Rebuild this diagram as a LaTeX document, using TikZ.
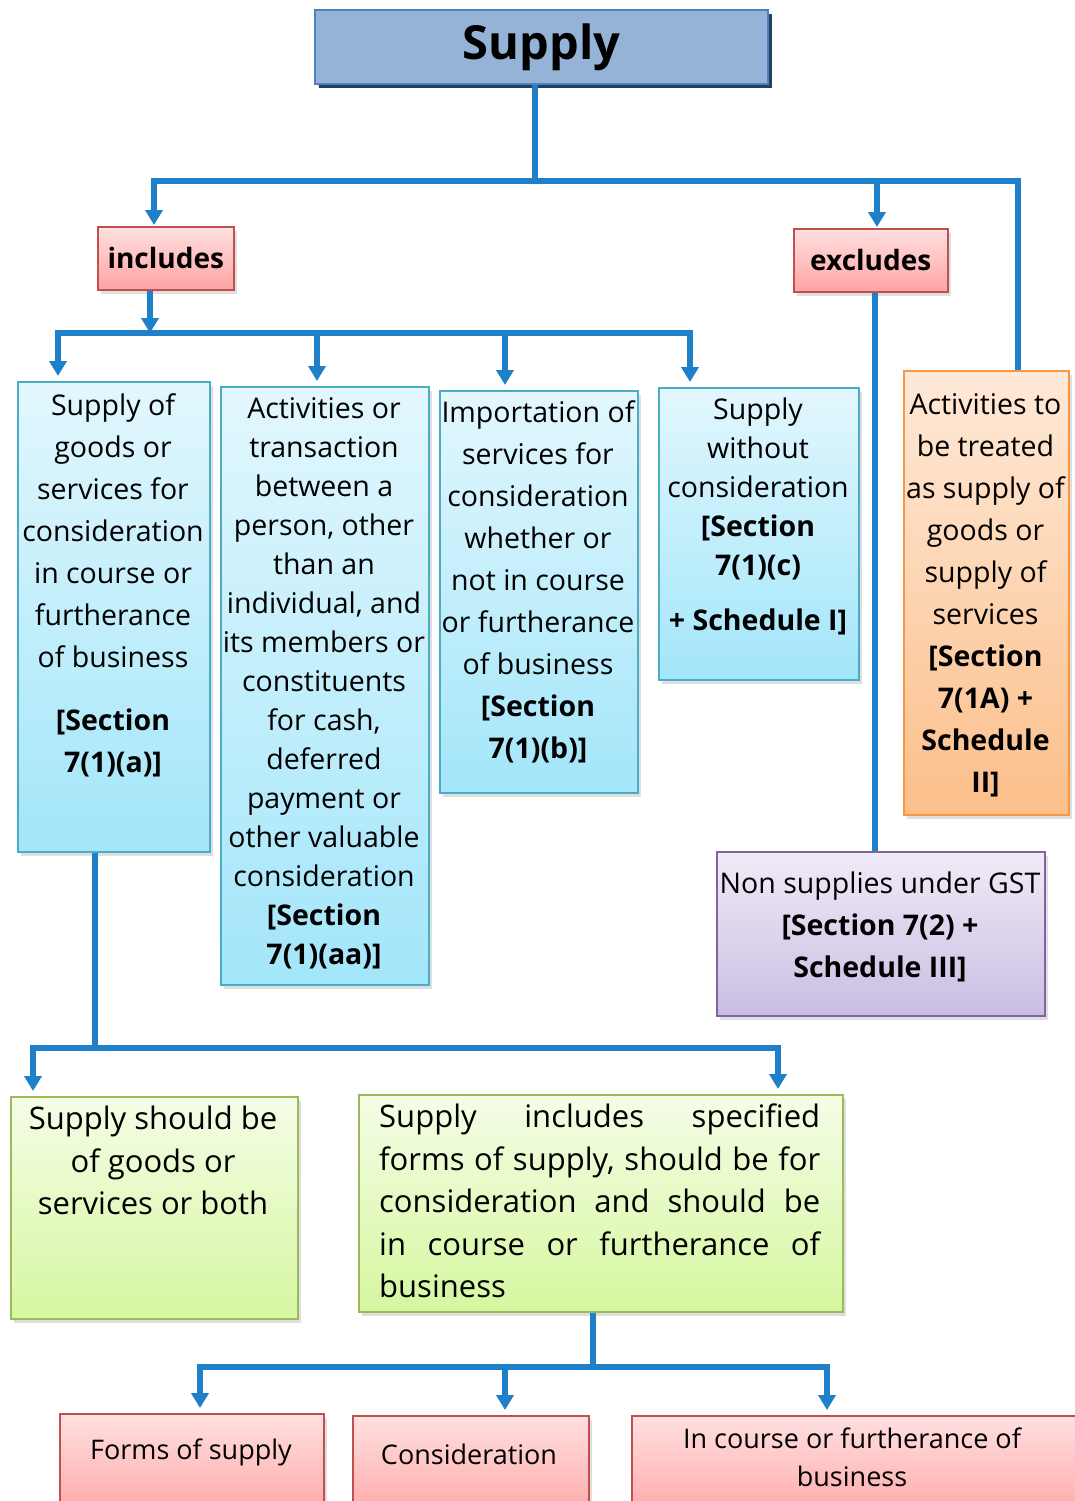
\documentclass[tikz,border=0pt]{standalone}
\usepackage{fontspec}
\setmainfont{Open Sans}
\usetikzlibrary{arrows.meta,shadows}
\definecolor{lineblue}{HTML}{1E80C8}
\definecolor{supfill}{HTML}{95B3D7}
\definecolor{supborder}{HTML}{4F81BD}
\definecolor{supshadow}{HTML}{243F60}
\definecolor{bluetop}{HTML}{E2F7FD}
\definecolor{bluebot}{HTML}{A3E6FA}
\definecolor{blueborder}{HTML}{4BACC6}
\definecolor{pinktop}{HTML}{FFE0E0}
\definecolor{pinkbot}{HTML}{FFA3A3}
\definecolor{pinkborder}{HTML}{C0504D}
\definecolor{orangetop}{HTML}{FFE9D8}
\definecolor{orangebot}{HTML}{FBBF8A}
\definecolor{orangeborder}{HTML}{F79646}
\definecolor{purpletop}{HTML}{F0EBF7}
\definecolor{purplebot}{HTML}{CABDE2}
\definecolor{purpleborder}{HTML}{8064A2}
\definecolor{greentop}{HTML}{F4FDE6}
\definecolor{greenbot}{HTML}{D6F7A0}
\definecolor{greenborder}{HTML}{9BBB59}
\tikzset{
  conn/.style={line width=6pt, draw=lineblue},
  arr/.style={conn, -{Triangle[width=17pt,length=15pt]}, shorten >=5pt},
  darr/.style={conn, {Triangle[width=17pt,length=15pt]}-{Triangle[width=17pt,length=15pt]}, shorten >=5pt, shorten <=5pt},
  box/.style={rectangle, line width=1.5pt, anchor=north west, inner sep=0pt,
    drop shadow={shadow xshift=3pt, shadow yshift=-4pt, opacity=0.25}},
  bluebox/.style={box, draw=blueborder, top color=bluetop, bottom color=bluebot},
  pinkbox/.style={box, draw=pinkborder, top color=pinktop, bottom color=pinkbot},
  orangebox/.style={box, draw=orangeborder, top color=orangetop, bottom color=orangebot},
  purplebox/.style={box, draw=purpleborder, top color=purpletop, bottom color=purplebot},
  greenbox/.style={box, draw=greenborder, top color=greentop, bottom color=greenbot},
  txt/.style={align=center, inner sep=0pt, anchor=north, font=\fontsize{28.5}{42}\selectfont},
  txtn/.style={txt, font=\fontsize{28.5}{39}\selectfont},
  gtxt/.style={txt, font=\fontsize{31}{42.5}\selectfont},
  btxt/.style={inner sep=0pt, font=\fontsize{27}{38}\selectfont, align=center},
}
\begin{document}
\begin{tikzpicture}[x=1pt,y=-1pt]
\useasboundingbox (0,0) rectangle (1074,1501);
% boxes
\node[box, draw=supborder, fill=supfill, line width=2pt, minimum width=453pt, minimum height=74pt,
  drop shadow={shadow xshift=4pt, shadow yshift=-4pt, fill=supshadow, opacity=1},
  font=\fontsize{47}{50}\selectfont\bfseries] (supply) at (314,9) {Supply};
\node[pinkbox, minimum width=136pt, minimum height=63pt, font=\fontsize{28}{30}\selectfont\bfseries] (incl) at (97,226) {includes};
\node[pinkbox, minimum width=154pt, minimum height=63pt, font=\fontsize{28}{30}\selectfont\bfseries] (excl) at (793,228) {excludes};
\node[bluebox, minimum width=192pt, minimum height=470pt] (b1) at (17,381) {};
\node[bluebox, minimum width=208pt, minimum height=598pt] (b2) at (220,386) {};
\node[bluebox, minimum width=198pt, minimum height=402pt] (b3) at (439,390) {};
\node[bluebox, minimum width=200pt, minimum height=292pt] (b4) at (658,387) {};
\node[orangebox, minimum width=165pt, minimum height=444pt] (orng) at (903,370) {};
\node[purplebox, minimum width=328pt, minimum height=164pt] (nons) at (716,851) {};
\node[greenbox, minimum width=287pt, minimum height=222pt] (g1) at (10,1096) {};
\node[greenbox, minimum width=484pt, minimum height=217pt] (g2) at (358,1094) {};
\node[pinkbox, minimum width=264pt, minimum height=110pt] (f1) at (59,1413) {};
\node[pinkbox, minimum width=236pt, minimum height=110pt] (c1) at (352,1415) {};
\node[pinkbox, minimum width=460pt, minimum height=110pt] (i1) at (631,1415) {};
% texts
\node[txt] (t1) at (113,393) {Supply of\\goods or\\services for\\consideration\\in course or\\furtherance\\of business\\[21pt]\textbf{[Section}\\\textbf{7(1)(a)]}};
\node[txtn] (t2) at (324,397) {Activities or\\transaction\\between a\\person, other\\than an\\individual, and\\its members or\\constituents\\for cash,\\deferred\\payment or\\other valuable\\consideration\\\textbf{[Section}\\\textbf{7(1)(aa)]}};
\node[txt] (t3) at (538,400) {Importation of\\services for\\consideration\\whether or\\not in course\\or furtherance\\of business\\\textbf{[Section}\\\textbf{7(1)(b)]}};
\node[txtn] (t4) at (758,398) {Supply\\without\\consideration\\\textbf{[Section}\\\textbf{7(1)(c)}\\[16pt]\textbf{+ Schedule I]}};
\node[txt] (t5) at (985.5,393) {Activities to\\be treated\\as supply of\\goods or\\supply of\\services\\\textbf{[Section}\\\textbf{7(1A) +}\\\textbf{Schedule}\\\textbf{II]}};
\node[txt] (t6) at (880,872) {Non supplies under GST\\\textbf{[Section 7(2) +}\\\textbf{Schedule III]}};
\node[gtxt] (t7) at (153,1106) {Supply should be\\of goods or\\services or both};
\node[gtxt, anchor=north west, align=left] (t8) at (379,1104)
  {\makebox[441pt][s]{Supply includes specified}\\
   \makebox[441pt][s]{forms of supply, should be for}\\
   \makebox[441pt][s]{consideration and should be}\\
   \makebox[441pt][s]{in course or furtherance of}\\
   \makebox[441pt][l]{business}};
\node[btxt] (t9) at (191,1452) {Forms of supply};
\node[btxt] (t10) at (469,1454) {Consideration};
\node[btxt] (t11) at (852,1457) {In course or furtherance of\\business};
% connectors
\coordinate (j1) at (535,181);
\coordinate (hL) at (154,181);
\coordinate (hR) at (1018,181);
\coordinate (xk) at (877,181);
\draw[conn] (j1 |- supply.south) -- (j1);
\draw[arr, shorten >=1pt] (orng.north -| hR) -- (hR) -- (hL) -- (hL |- incl.north);
\draw[arr, shorten >=1pt] (xk) -- (xk |- excl.north);
\coordinate (k) at (150,333);
\coordinate (lA) at (58,333);
\coordinate (lB) at (317,333);
\coordinate (lC) at (505,333);
\coordinate (lD) at (690,333);
\draw[arr, shorten >=0pt] (k |- incl.south) -- (k);
\draw[darr] (lA |- b1.north) -- (lA) -- (lD) -- (lD |- b4.north);
\draw[arr] (lB) -- (lB |- b2.north);
\draw[arr] (lC) -- (lC |- b3.north);
\coordinate (xe) at (875,291);
\draw[conn] (xe |- excl.south) -- (xe |- nons.north);
\coordinate (m) at (95,1048);
\coordinate (mA) at (33,1048);
\coordinate (mB) at (778,1048);
\draw[conn] (m |- b1.south) -- (m);
\draw[darr] (mA |- g1.north) -- (mA) -- (mB) -- (mB |- g2.north);
\coordinate (n) at (593,1367);
\coordinate (nA) at (200,1367);
\coordinate (nB) at (505,1367);
\coordinate (nC) at (827,1367);
\draw[conn] (n |- g2.south) -- (n);
\draw[darr] (nA |- f1.north) -- (nA) -- (nC) -- (nC |- i1.north);
\draw[arr] (nB) -- (nB |- c1.north);
\end{tikzpicture}
\end{document}
